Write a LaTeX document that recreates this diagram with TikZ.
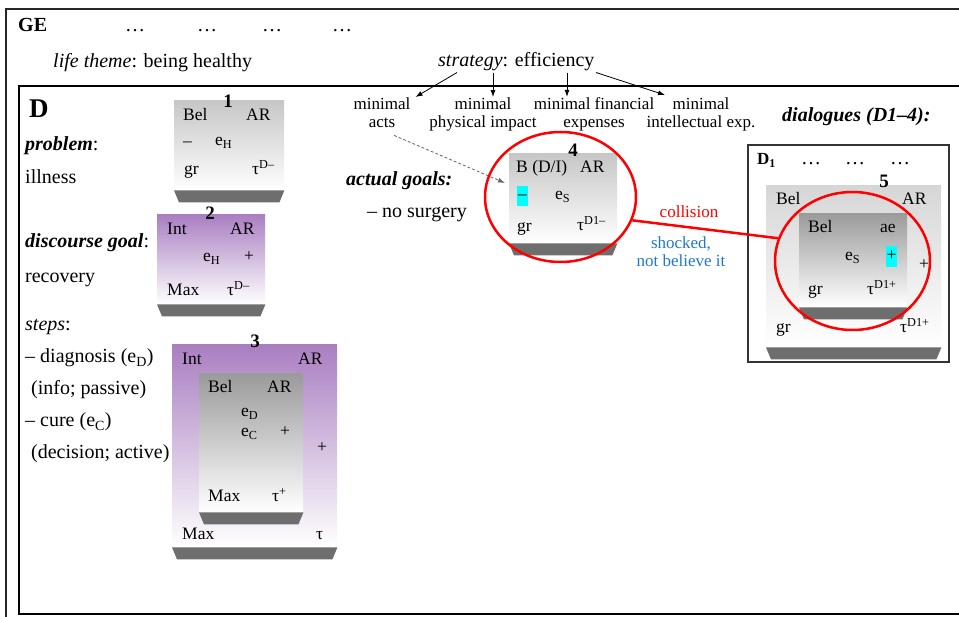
\documentclass[tikz,border=0pt]{standalone}
\usepackage{fontspec}
\setmainfont{Liberation Serif}
\usetikzlibrary{calc,arrows.meta,shapes.geometric}
\definecolor{purp}{HTML}{A97EC1}
\definecolor{lgray}{HTML}{C6C6C6}
\definecolor{vlgray}{HTML}{D6D6D6}
\definecolor{dgray}{HTML}{9A9A9A}
\definecolor{baseg}{HTML}{6E6E6E}
\definecolor{blu}{HTML}{2277CC}
\definecolor{cyn}{HTML}{00FFFF}
\tikzset{
  txt/.style={anchor=base west, inner sep=0pt, font=\fontsize{20}{24}\selectfont},
  lab/.style={inner sep=0pt, font=\fontsize{17}{18}\selectfont},
  bl/.style={anchor=base west, inner sep=0pt, font=\fontsize{17.5}{18}\selectfont},
  bc/.style={anchor=base, inner sep=0pt, font=\fontsize{17.5}{18}\selectfont},
  boxnum/.style={anchor=base, inner sep=0pt, font=\fontsize{19}{20}\selectfont\bfseries},
  boxbody/.style={anchor=north west, inner sep=0pt, draw=none, bottom color=white},
  redc/.style={ellipse, draw=red, line width=2.5pt, inner sep=0pt},
  arr/.style={-{Latex[length=7pt,width=5pt]}, line width=0.8pt},
}
\newcommand\shadebox[6]{%
  \node[boxbody, top color=#6, minimum width=#4pt, minimum height=#5pt] (#1) at (#2,#3) {};
  \fill[baseg] (#1.south west) -- (#1.south east) -- ++(-5,12) -- ($(#1.south west)+(5,12)$) -- cycle;
}
\begin{document}
\begin{tikzpicture}[x=1pt,y=-1pt]
\useasboundingbox (0,0) rectangle (959,617);
\begin{scope}
\clip (0,0) rectangle (959,617);
\draw[line width=1.3pt, draw=black!85] (6,9) rectangle (980,650);
\draw[line width=2.4pt] (19,86) rectangle (980,614);
\end{scope}

% GE level
\node[txt, font=\fontsize{20}{24}\selectfont\bfseries] (ge) at (18,32) {GE};
\node[txt, anchor=base] (gd1) at (135,32) {…};
\node[txt, anchor=base] (gd2) at (207,32) {…};
\node[txt, anchor=base] (gd3) at (272,32) {…};
\node[txt, anchor=base] (gd4) at (342,32) {…};
\node[txt] (life) at (53,68) {\textit{life theme}: being healthy};
\node[txt] (strat) at (438,67) {\textit{strategy}: efficiency};

\node[lab, align=center, anchor=base] (m1) at (382,128) {minimal\\acts};
\node[lab, align=center, anchor=base] (m2) at (483,128) {minimal\\physical impact};
\node[lab, align=center, anchor=base] (m3) at (594,128) {minimal financial\\expenses};
\node[lab, align=center, anchor=base] (m4) at (701,128) {minimal\\intellectual exp.};

\draw[arr] ($(strat.south west)+(19,1)$) -- ($(m1.north east)+(5,-1)$);
\draw[arr] ($(strat.south west)+(55,1)$) -- ($(m2.north)+(10,-1)$);
\draw[arr] ($(strat.south west)+(129,1)$) -- ($(m3.north)+(-27,-1)$);
\draw[arr] ($(strat.south west)+(158,1)$) -- ($(m4.north)+(-36,-3)$);

% left column
\node[txt, font=\fontsize{27}{30}\selectfont\bfseries] (dd) at (29,118) {D};
\node[txt] (prob) at (25,151) {\textbf{\textit{problem}}:};
\node[txt] (ill) at (25,184) {illness};
\node[txt] (dgoal) at (25,248) {\textbf{\textit{discourse goal}}:};
\node[txt] (reco) at (25,283) {recovery};
\node[txt] (steps) at (25,331) {\textit{steps}:};
\node[txt] (s1) at (25,363) {-- diagnosis (e\textsubscript{D})};
\node[txt] (s2) at (31,395) {(info; passive)};
\node[txt] (s3) at (25,427) {-- cure (e\textsubscript{C})};
\node[txt] (s4) at (31,459) {(decision; active)};

% box 1
\shadebox{b1}{174}{100}{110}{90}{lgray}
\node[boxnum] (n1) at (228,108) {1};
\node[bl] (b1a) at (183,121) {Bel};
\node[bl] (b1b) at (246,121) {AR};
\node[bl] (b1c) at (183,147) {--};
\node[bl] (b1d) at (215,146) {e\textsubscript{H}};
\node[bl] (b1e) at (184,175) {gr};
\node[bl] (b1f) at (252,175) {τ\textsuperscript{D--}};

% box 2
\shadebox{b2}{157}{214}{108}{90}{purp}
\node[boxnum] (n2) at (210,220) {2};
\node[bl] (b2a) at (167,235) {Int};
\node[bl] (b2b) at (230,235) {AR};
\node[bl] (b2c) at (203,262) {e\textsubscript{H}};
\node[bl] (b2d) at (244,262) {+};
\node[bl] (b2e) at (167,296) {Max};
\node[bl] (b2f) at (227,296) {τ\textsuperscript{D--}};

% box 3
\shadebox{b3}{172}{344}{165}{203}{purp}
\shadebox{b3i}{199}{373}{104}{139}{dgray}
\node[boxnum] (n3) at (255,348) {3};
\node[bl] (b3a) at (182,365) {Int};
\node[bl] (b3b) at (298,365) {AR};
\node[bl] (b3c) at (208,393) {Bel};
\node[bl] (b3d) at (267,393) {AR};
\node[bl] (b3e) at (241,417) {e\textsubscript{D}};
\node[bl] (b3f) at (241,437) {e\textsubscript{C}};
\node[bl] (b3g) at (280,437) {+};
\node[bl] (b3h) at (317,453) {+};
\node[bl] (b3i1) at (208,502) {Max};
\node[bl] (b3j) at (272,502) {τ\textsuperscript{+}};
\node[bl] (b3k) at (182,539) {Max};
\node[bl] (b3l) at (316,539) {τ};

% actual goals
\node[txt] (ag) at (346,186) {\textbf{\textit{actual goals:}}};
\node[txt] (nos) at (367,218) {-- no surgery};

% box 4
\shadebox{b4}{509}{153}{108}{90}{lgray}
\node[boxnum] (n4) at (573,157) {4};
\node[bl] (b4a) at (516,173) {B (D/I)};
\node[bl] (b4b) at (580,173) {AR};
\fill[cyn] (517,186) rectangle (528,206);
\node[bc] (b4c) at (522.5,200) {--};
\node[bl] (b4d) at (555,200) {e\textsubscript{S}};
\node[bl] (b4e) at (517,232) {gr};
\node[bl] (b4f) at (577,231) {τ\textsuperscript{D1--}};

\draw[arr, dash pattern=on 3pt off 2pt, draw=black!60] ($(m1.south)+(12,7)$) -- ($(b4.north west)+(-4,30)$);

% dialogues
\node[txt, font=\fontsize{20}{24}\selectfont\bfseries\itshape] (dia) at (782,122) {dialogues (D1--4):};
\draw[line width=1.2pt, draw=black!80] (748,145) rectangle (949,362);
\node[txt, font=\fontsize{17}{18}\selectfont\bfseries] (d1) at (757,165) {D\textsubscript{1}};
\node[txt, anchor=base] (dd1) at (811,165) {…};
\node[txt, anchor=base] (dd2) at (855,165) {…};
\node[txt, anchor=base] (dd3) at (900,165) {…};

% box 5
\shadebox{b5}{766}{185}{175}{162}{vlgray}
\shadebox{b5i}{799}{213}{108}{94}{dgray}
\node[boxnum] (n5) at (884,188) {5};
\node[bl] (b5a) at (776,205) {Bel};
\node[bl] (b5b) at (902,205) {AR};
\node[bl] (b5c) at (808,233) {Bel};
\node[bl] (b5d) at (880,233) {ae};
\node[bl] (b5e) at (845,261) {e\textsubscript{S}};
\fill[cyn] (886,246) rectangle (897,267);
\node[bc] (b5f) at (891.5,261) {+};
\node[bl] (b5g) at (919,270) {+};
\node[bl] (b5h) at (808,295) {gr};
\node[bl] (b5i1) at (867,295) {τ\textsuperscript{D1+}};
\node[bl] (b5j) at (776,333) {gr};
\node[bl] (b5k) at (900,333) {τ\textsuperscript{D1+}};

% red circles and collision
\node[redc, minimum width=151pt, minimum height=130pt] (c4) at (560.5,197) {};
\node[redc, minimum width=155pt, minimum height=138pt] (c5) at (852.5,261) {};
\draw[red, line width=2.5pt] (c4.-18) -- (c5.163);
\node[lab, anchor=base, text=red] (coll) at (689,218) {collision};
\node[lab, align=center, anchor=base, text=blu] (shock) at (681,267) {shocked,\\not believe it};
\end{tikzpicture}
\end{document}
